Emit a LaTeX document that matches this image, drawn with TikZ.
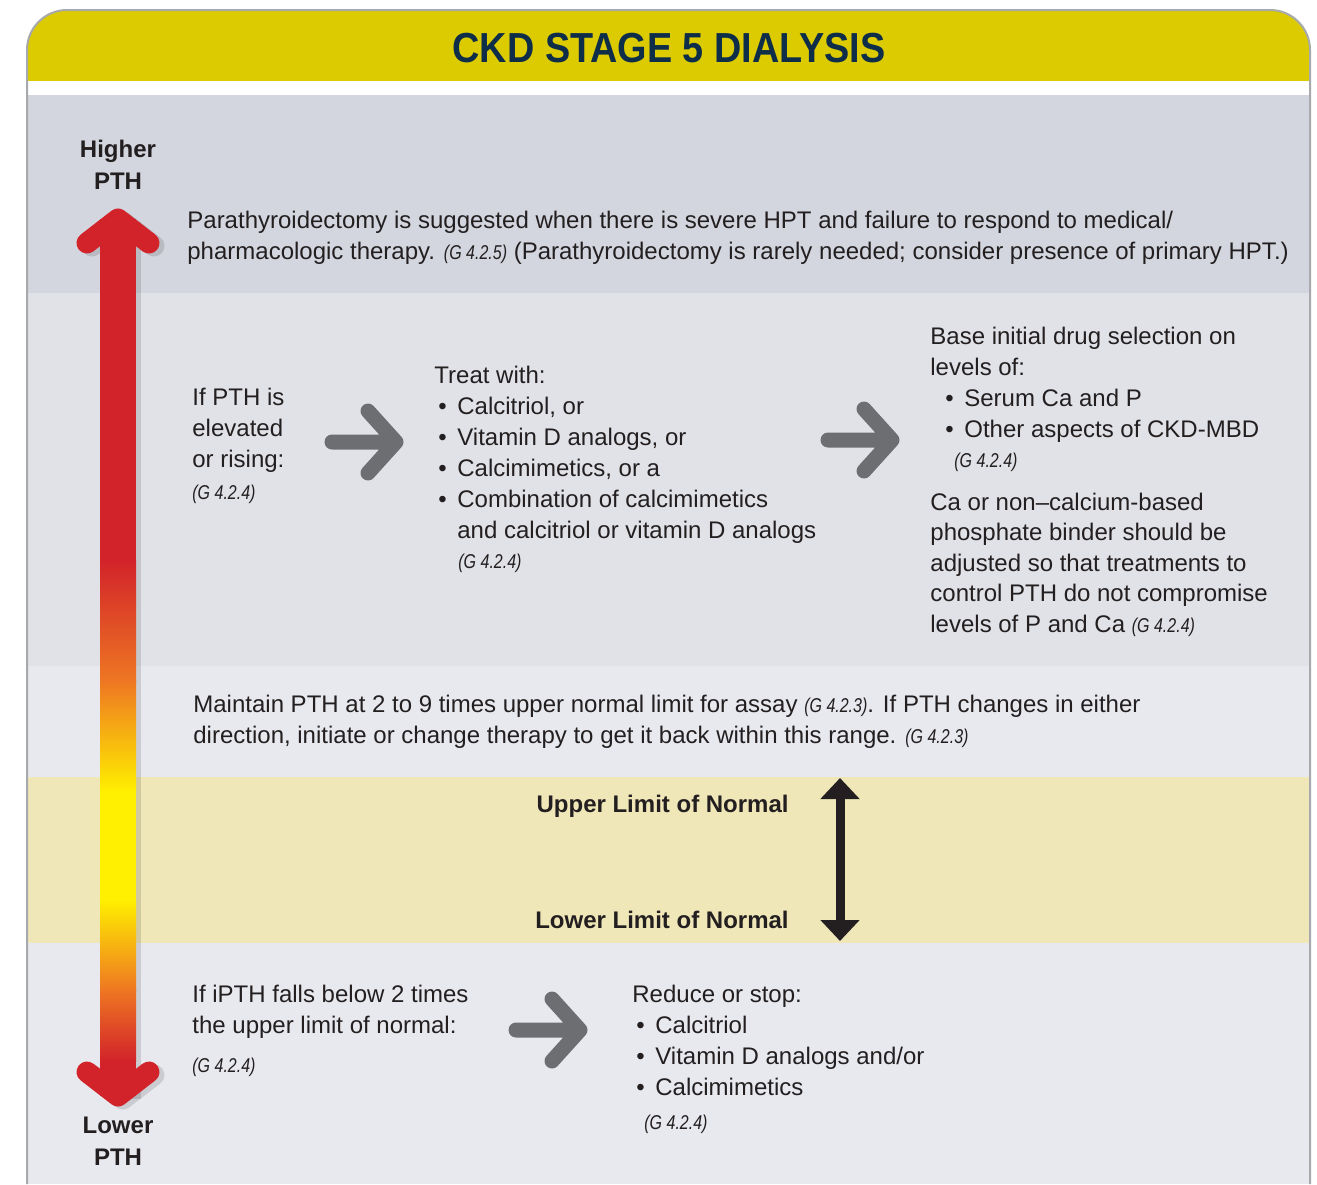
\documentclass[tikz,border=0pt]{standalone}
\usepackage{fontspec}
\setmainfont{Liberation Sans}
\newfontfamily\titlefont[FakeStretch=0.9]{Liberation Sans}
\newfontfamily\reffont[FakeStretch=0.8]{Liberation Sans}
\usepackage{tikz}
\usetikzlibrary{positioning,arrows.meta}
\usepackage{xcolor}
\definecolor{hdryellow}{HTML}{DBCB00}
\definecolor{navy}{HTML}{0D2D48}
\definecolor{bandone}{HTML}{D3D6DE}
\definecolor{bandtwo}{HTML}{E1E2E7}
\definecolor{bandthree}{HTML}{E8E9EE}
\definecolor{normband}{HTML}{EFE7B8}
\definecolor{inkdark}{HTML}{231F20}
\definecolor{arrowgray}{HTML}{6D6E71}
\definecolor{pthred}{HTML}{D2232A}
\definecolor{pthorange}{HTML}{EE7622}
\definecolor{pthyellow}{HTML}{FFEF00}
\definecolor{framegray}{HTML}{A7A9AC}

\newcommand{\gref}[1]{{\reffont\itshape\fontsize{10}{12}\selectfont (G~#1)}}
\newcommand{\bul}{\makebox[9.5pt][l]{\textbullet}}

\begin{document}
\begin{tikzpicture}[x=0.5pt, y=-0.5pt,
    body/.style={anchor=base west, inner sep=0pt, align=left, text=inkdark,
        font=\fontsize{12}{15.5}\selectfont},
    ref/.style={anchor=base west, inner sep=0pt, text=inkdark},
    pthlabel/.style={anchor=base, inner sep=0pt, align=center, text=inkdark,
        font=\bfseries\fontsize{12}{16}\selectfont},
    limit/.style={anchor=base east, inner sep=0pt, text=inkdark,
        font=\bfseries\fontsize{12}{15}\selectfont},
    chev/.style={arrowgray, line width=7.5pt, line cap=round, line join=round},
    redhead/.style={line width=10.5pt, line cap=round, line join=round},
    chevron/.pic={\draw[chev] (-64,0) -- (0,0) (-28,-31) -- (0,0) -- (-28,31);}]
    \useasboundingbox (0,0) rectangle (1317,1184);

    % Bands inside the rounded frame
    \begin{scope}
        \clip (0,0) rectangle (1317,1184);
        \clip[rounded corners=20] (27,10) rectangle (1310,1240);
        \fill[white] (27,10) rectangle (1310,1184);
        \fill[hdryellow] (27,10) rectangle (1310,81);
        \fill[bandone] (27,95) rectangle (1310,293);
        \fill[bandtwo] (27,293) rectangle (1310,666);
        \fill[bandthree] (27,666) rectangle (1310,777);
        \fill[normband] (27,777) rectangle (1310,943);
        \fill[bandthree] (27,943) rectangle (1310,1184);
    \end{scope}
    \draw[framegray, line width=1pt, rounded corners=20] (27,1184) -- (27,10) -- (1310,10) -- (1310,1184);

    \node[font=\titlefont\bfseries\fontsize{21}{24}\selectfont, text=navy] (title) at (669,48) {CKD STAGE 5 DIALYSIS};

    % PTH scale arrow
    \begin{scope}[shift={(5,3)}, opacity=0.12]
        \fill[black] (100,219) rectangle (136,1096);
        \draw[redhead, black] (87,243) -- (118,219) -- (149,243);
        \draw[redhead, black] (87,1072) -- (118,1096) -- (149,1072);
    \end{scope}
    \fill[pthred] (100,219) rectangle (136,561);
    \shade[top color=pthred, bottom color=pthorange] (100,560) rectangle (136,681);
    \shade[top color=pthorange, bottom color=pthyellow] (100,680) rectangle (136,791);
    \fill[pthyellow] (100,790) rectangle (136,901);
    \shade[top color=pthyellow, bottom color=pthorange] (100,900) rectangle (136,991);
    \shade[top color=pthorange, bottom color=pthred] (100,990) rectangle (136,1061);
    \fill[pthred] (100,1060) rectangle (136,1096);
    \draw[redhead, pthred] (87,243) -- (118,219) -- (149,243);
    \draw[redhead, pthred] (87,1072) -- (118,1096) -- (149,1072);

    % multi-line nodes sit on the baseline of their last line
    \node[pthlabel] (hi) at (118,189) {Higher\\PTH};
    \node[pthlabel] (lo) at (118,1165) {Lower\\PTH};

    % Band 1: parathyroidectomy
    \node[body] (parat) at (187,259) {Parathyroidectomy is suggested when there is severe HPT and failure to respond to medical/\\pharmacologic therapy. \gref{4.2.5} (Parathyroidectomy is rarely needed; consider presence of primary HPT.)};

    % Band 2: PTH elevated or rising
    \node[body] (rise) at (192,467) {If PTH is\\elevated\\or rising:};
    \node[ref] (riseref) at (192,499) {\gref{4.2.4}};
    \pic at (396,442) {chevron};
    \node[body] (treat) at (434,538) {Treat with:\\
        \hspace*{2pt}\bul Calcitriol, or\\
        \hspace*{2pt}\bul Vitamin D analogs, or\\
        \hspace*{2pt}\bul Calcimimetics, or a\\
        \hspace*{2pt}\bul Combination of calcimimetics\\
        \hspace*{2pt}\hphantom{\bul}and calcitriol or vitamin D analogs};
    \node[ref] (treatref) at (458,568) {\gref{4.2.4}};
    \pic at (892,440) {chevron};
    \node[body] (base) at (930,437) {Base initial drug selection on\\levels of:\\
        \hspace*{7.5pt}\bul Serum Ca and P\\
        \hspace*{7.5pt}\bul Other aspects of CKD-MBD};
    \node[ref] (baseref) at (954,467) {\gref{4.2.4}};
    \node[body, font=\fontsize{12}{15.25}\selectfont] (binder) at (930,632) {Ca or non–calcium-based\\phosphate binder should be\\adjusted so that treatments to\\control PTH do not compromise\\levels of P and Ca \gref{4.2.4}};

    % Band 3: target range
    \node[body] (maint) at (193,743) {Maintain PTH at 2 to 9 times upper normal limit for assay \gref{4.2.3}. If PTH changes in either\\direction, initiate or change therapy to get it back within this range. \gref{4.2.3}};

    % Band 4: normal range
    \node[limit] (uln) at (789,812) {Upper Limit of Normal};
    \node[limit] (lln) at (789,928) {Lower Limit of Normal};
    \coordinate (ntop) at (840,778);
    \coordinate (nbot) at (840,941);
    \draw[inkdark, line width=4.5pt, {Triangle[length=10.5pt, width=19pt]}-{Triangle[length=10.5pt, width=19pt]}] (ntop) -- (nbot);

    % Band 5: PTH falling
    \node[body] (fall) at (192,1033) {If iPTH falls below 2 times\\the upper limit of normal:};
    \node[ref] (fallref) at (192,1072) {\gref{4.2.4}};
    \pic at (580,1030) {chevron};
    \node[body] (reduce) at (632,1095) {Reduce or stop:\\
        \hspace*{2pt}\bul Calcitriol\\
        \hspace*{2pt}\bul Vitamin D analogs and/or\\
        \hspace*{2pt}\bul Calcimimetics};
    \node[ref] (reduceref) at (644,1129) {\gref{4.2.4}};
\end{tikzpicture}
\end{document}
